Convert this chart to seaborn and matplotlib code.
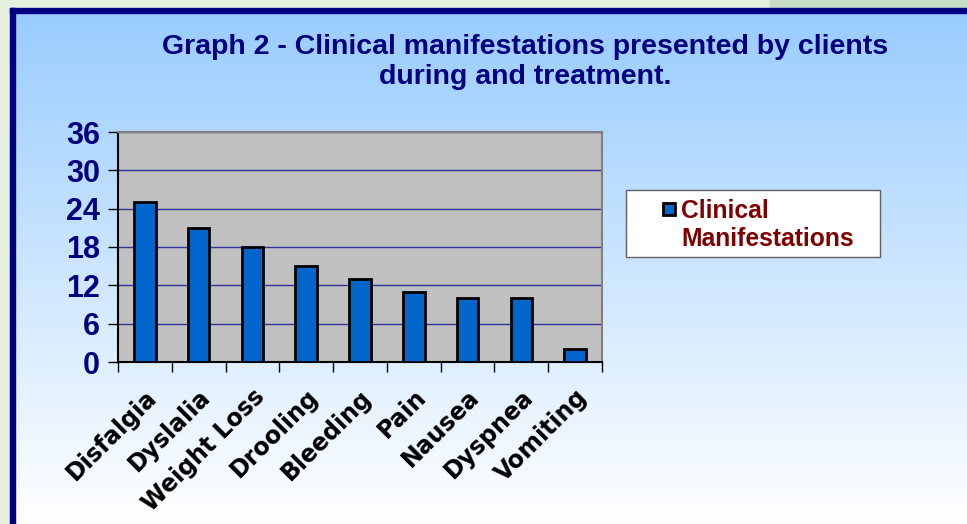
import numpy as np
import pandas as pd
import matplotlib
matplotlib.use("Agg")
import matplotlib.pyplot as plt
from matplotlib.patches import Rectangle
import seaborn as sns

# ----------------------------------
# Data
# ----------------------------------

categories = [
    "Disfalgia", "Dyslalia", "Weight Loss", "Drooling", "Bleeding",
    "Pain", "Nausea", "Dyspnea", "Vomiting"
]
values = [25, 21, 18, 15, 13, 11, 10, 10, 2]
y_ticks = [0, 6, 12, 18, 24, 30, 36]
legend_lines = ["Clinical", "Manifestations"]
title = "Graph 2 - Clinical manifestations presented by clients\nduring and treatment."

df = pd.DataFrame({"category": categories, "value": values})

sns.set_style("white")
plt.rcParams["font.family"] = ["Liberation Sans", "DejaVu Sans"]

W, H = 967, 524
fig = plt.figure(figsize=(W / 100, H / 100), dpi=100)

# ----------------------------------
# Background: green page + navy framed blue gradient panel
# ----------------------------------

bg = fig.add_axes([0, 0, 1, 1], zorder=-10)
bg.set_xlim(0, W)
bg.set_ylim(H, 0)
bg.axis("off")
bg.add_patch(Rectangle((0, 0), W, H, color="#e6f0e0"))
bg.add_patch(Rectangle((770, 0), W - 770, 10, color="#c6dcc6"))

grad = np.linspace(0, 1, 256).reshape(-1, 1)
top_c = np.array([0x99, 0xcc, 0xff]) / 255
bot_c = np.array([0xff, 0xff, 0xff]) / 255
img = top_c + (bot_c - top_c) * grad
img = img.reshape(256, 1, 3)
bg.imshow(img, extent=(13, W, H, 12), aspect="auto", zorder=1)
bg.add_patch(Rectangle((10, 8), W - 10, 5, color="#000080", zorder=2))
bg.add_patch(Rectangle((10, 8), 5, H - 8, color="#000080", zorder=2))

# ----------------------------------
# Bar chart
# ----------------------------------

ax = fig.add_axes([118 / W, 1 - 362 / H, (602 - 118) / W, (362 - 132) / H])

sns.barplot(
    data=df,
    x="category",
    y="value",
    color="#0066cc",
    edgecolor="black",
    linewidth=2,
    width=0.4,
    saturation=1,
    ax=ax,
    zorder=3
)

ax.set_facecolor("#c0c0c0")
ax.set_ylim(0, 36)
ax.set_xlim(-0.5, len(categories) - 0.5)
ax.set_yticks(y_ticks)
ax.yaxis.grid(True, color="#333399", linewidth=1)
ax.set_axisbelow(True)
ax.set_xlabel("")
ax.set_ylabel("")

for s in ["top", "right"]:
    ax.spines[s].set_color("#808080")
    ax.spines[s].set_linewidth(1.5)
for s in ["left", "bottom"]:
    ax.spines[s].set_color("black")
    ax.spines[s].set_linewidth(1.5)

ax.tick_params(axis="y", left=True, length=7, width=1, color="black",
               labelsize=22, labelcolor="#000080", pad=6)
for lab in ax.get_yticklabels():
    lab.set_fontweight("bold")

# category boundary ticks
ax.set_xticks(np.arange(-0.5, len(categories), 1), minor=True)
ax.tick_params(axis="x", which="minor", bottom=True, length=7, width=1, color="black")
ax.tick_params(axis="x", which="major", bottom=False, pad=13)
ax.set_xticks(range(len(categories)))
ax.set_xticklabels(categories, rotation=45, ha="right", rotation_mode="anchor",
                   fontsize=17, fontweight="bold", color="black",
                   family="DejaVu Sans")

# ----------------------------------
# Title
# ----------------------------------

fig.text(525 / W, 1 - 62 / H, title, ha="center", va="center",
         fontsize=20.5, fontweight="bold", color="#000080", linespacing=1.2)

# ----------------------------------
# Legend
# ----------------------------------

bg.add_patch(Rectangle((626, 190), 254, 67, facecolor="white",
                       edgecolor="#606060", linewidth=1, zorder=3))
bg.add_patch(Rectangle((663, 203), 12, 12, facecolor="#0066cc",
                       edgecolor="black", linewidth=2, zorder=4))
bg.text(681, 218, legend_lines[0], ha="left", va="baseline", fontsize=17.7,
        fontweight="bold", color="#800000", zorder=5)
bg.text(681, 246, legend_lines[1], ha="left", va="baseline", fontsize=17.7,
        fontweight="bold", color="#800000", zorder=5)

fig.savefig("out.png", dpi=100)
